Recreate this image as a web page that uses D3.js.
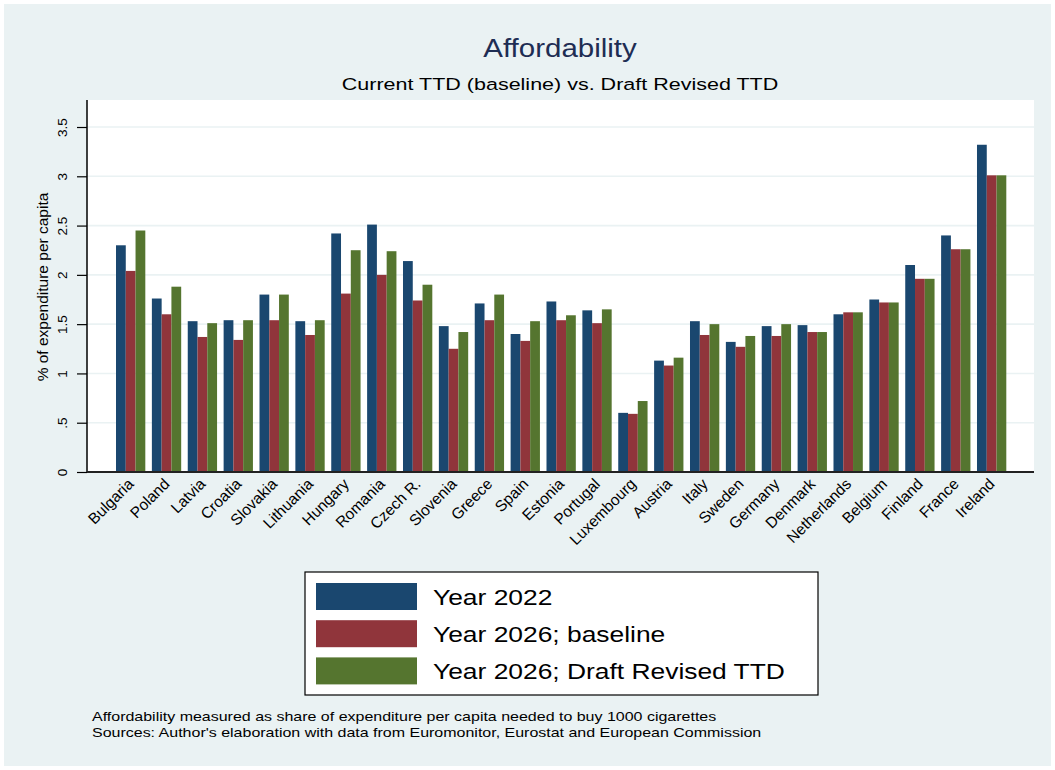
<!DOCTYPE html>
<html>
<head>
<meta charset="utf-8">
<script src="https://cdn.jsdelivr.net/npm/d3@7"></script>
<style>
  body { margin: 0; background: #fff; }
  text { font-family: "Liberation Sans", Arial, Helvetica, sans-serif; }
</style>
</head>
<body>
<div id="chart"></div>
<script>
// 数据
const countries = ['Bulgaria', 'Poland', 'Latvia', 'Croatia', 'Slovakia', 'Lithuania', 'Hungary',
  'Romania', 'Czech R.', 'Slovenia', 'Greece', 'Spain', 'Estonia', 'Portugal', 'Luxembourg',
  'Austria', 'Italy', 'Sweden', 'Germany', 'Denmark', 'Netherlands', 'Belgium', 'Finland',
  'France', 'Ireland'];
const seriesNames = ['Year 2022', 'Year 2026; baseline', 'Year 2026; Draft Revised TTD'];
const year2022 = [2.30, 1.76, 1.53, 1.54, 1.80, 1.53, 2.42, 2.51, 2.14, 1.48, 1.71, 1.40, 1.73,
  1.64, 0.60, 1.13, 1.53, 1.32, 1.48, 1.49, 1.60, 1.75, 2.10, 2.40, 3.32];
const baseline2026 = [2.04, 1.60, 1.37, 1.34, 1.54, 1.39, 1.81, 2.00, 1.74, 1.25, 1.54, 1.33, 1.54,
  1.51, 0.59, 1.08, 1.39, 1.27, 1.38, 1.42, 1.62, 1.72, 1.96, 2.26, 3.01];
const draft2026 = [2.45, 1.88, 1.51, 1.54, 1.80, 1.54, 2.25, 2.24, 1.90, 1.42, 1.80, 1.53, 1.59,
  1.65, 0.72, 1.16, 1.50, 1.38, 1.50, 1.42, 1.62, 1.72, 1.96, 2.26, 3.01];
const yTicks = [0, 0.5, 1, 1.5, 2, 2.5, 3, 3.5];
const yTickLabels = ['0', '.5', '1', '1.5', '2', '2.5', '3', '3.5'];
const colors = ['#1a476f', '#90353b', '#55752f'];

const W = 1055, H = 770;
const plot = { left: 87, right: 1034, top: 100, bottom: 472 };

const svg = d3.select('#chart').append('svg')
  .attr('width', W)
  .attr('height', H);

// 背景
svg.append('rect').attr('width', W).attr('height', H).attr('fill', '#fff');
svg.append('rect')
  .attr('x', 4).attr('y', 4)
  .attr('width', W - 8).attr('height', H - 8)
  .attr('fill', '#eaf2f3');
svg.append('rect')
  .attr('x', plot.left).attr('y', plot.top)
  .attr('width', plot.right - plot.left).attr('height', plot.bottom - plot.top)
  .attr('fill', '#fff');

// 比例尺
const y = d3.scaleLinear().domain([0, 3.774]).range([plot.bottom, plot.top]);
const x = d3.scaleBand().domain(countries).range([116, 1006.3]).paddingInner(0.183).paddingOuter(0);
const xs = d3.scaleBand().domain(d3.range(3)).range([0, x.bandwidth()]);

// 网格线
svg.append('g')
  .selectAll('line')
  .data(yTicks.filter(d => d > 0))
  .enter()
  .append('line')
  .attr('x1', plot.left).attr('x2', plot.right)
  .attr('y1', d => y(d)).attr('y2', d => y(d))
  .attr('stroke', '#eaf2f3')
  .attr('stroke-width', 1.6);

// 柱子
const rows = countries.map((c, i) => ({ country: c, values: [year2022[i], baseline2026[i], draft2026[i]] }));
const groups = svg.append('g')
  .selectAll('g')
  .data(rows)
  .enter()
  .append('g')
  .attr('transform', d => `translate(${x(d.country)},0)`);

groups.selectAll('rect')
  .data(d => d.values)
  .enter()
  .append('rect')
  .attr('x', (d, i) => xs(i))
  .attr('width', xs.bandwidth())
  .attr('y', d => y(d))
  .attr('height', d => y(0) - y(d))
  .attr('fill', (d, i) => colors[i]);

// Y 轴
const yAxis = d3.axisLeft(y)
  .tickValues(yTicks)
  .tickFormat((d, i) => yTickLabels[i])
  .tickSize(10)
  .tickPadding(0);

const yg = svg.append('g')
  .attr('transform', `translate(${plot.left},0)`)
  .call(yAxis);
yg.select('.domain').remove();
yg.selectAll('.tick line').attr('stroke', '#000').attr('stroke-width', 1.2);
yg.selectAll('.tick text')
  .attr('x', null).attr('dy', null)
  .attr('transform', 'translate(-20,0) rotate(-90)')
  .attr('text-anchor', 'middle')
  .style('font-size', '13.5px')
  .attr('fill', '#000');

svg.append('line')
  .attr('x1', plot.left).attr('x2', plot.left)
  .attr('y1', plot.top).attr('y2', plot.bottom + 0.5)
  .attr('stroke', '#000').attr('stroke-width', 1.5);
svg.append('line')
  .attr('x1', plot.left).attr('x2', plot.right)
  .attr('y1', plot.bottom).attr('y2', plot.bottom)
  .attr('stroke', '#222').attr('stroke-width', 1.8);

// Y 轴标题
svg.append('text')
  .attr('transform', 'translate(48,287) rotate(-90)')
  .attr('text-anchor', 'middle')
  .style('font-size', '15.5px')
  .text('% of expenditure per capita');

// X 轴标签
svg.append('g')
  .selectAll('text')
  .data(countries)
  .enter()
  .append('text')
  .attr('transform', d => `translate(${x(d) + x.bandwidth() / 2 + 4},${plot.bottom + 13}) rotate(-45)`)
  .attr('text-anchor', 'end')
  .style('font-size', '15.5px')
  .text(d => d);

// 标题（原图文字横向略宽，用 scale 拉伸）
svg.append('text')
  .attr('transform', 'translate(560,57) scale(1.18,1)')
  .attr('text-anchor', 'middle')
  .style('font-size', '25px')
  .attr('fill', '#1e2d53')
  .text('Affordability');
svg.append('text')
  .attr('transform', 'translate(560,90) scale(1.265,1)')
  .attr('text-anchor', 'middle')
  .style('font-size', '17px')
  .text('Current TTD (baseline) vs. Draft Revised TTD');

// 图例
const legend = svg.append('g').attr('transform', 'translate(305,572)');
legend.append('rect')
  .attr('width', 513).attr('height', 123)
  .attr('fill', '#fff')
  .attr('stroke', '#000').attr('stroke-width', 1.2);
const items = legend.selectAll('g.item')
  .data(seriesNames)
  .enter()
  .append('g')
  .attr('class', 'item')
  .attr('transform', (d, i) => `translate(0,${11 + i * 37.2})`);
items.append('rect')
  .attr('x', 11).attr('width', 101).attr('height', 27)
  .attr('fill', (d, i) => colors[i]);
items.append('text')
  .attr('transform', 'translate(128,22) scale(1.2,1)')
  .style('font-size', '22px')
  .text(d => d);

// 注释
svg.append('text')
  .attr('transform', 'translate(92,721) scale(1.23,1)')
  .style('font-size', '13px')
  .text('Affordability measured as share of expenditure per capita needed to buy 1000 cigarettes');
svg.append('text')
  .attr('transform', 'translate(92,737) scale(1.23,1)')
  .style('font-size', '13px')
  .text("Sources: Author's elaboration with data from Euromonitor, Eurostat and European Commission");
</script>
</body>
</html>
